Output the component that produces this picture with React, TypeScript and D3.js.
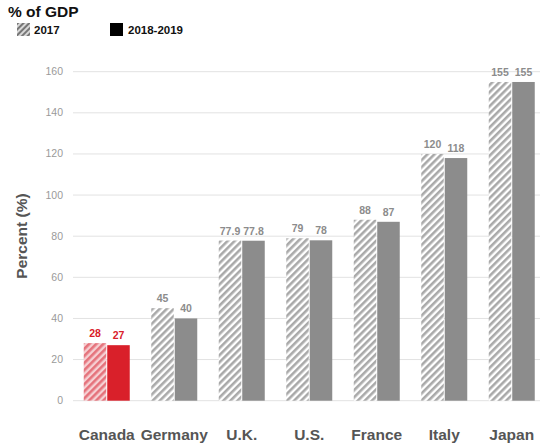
import React from "react";
import * as d3 from "d3";

const categories = ["Canada", "Germany", "U.K.", "U.S.", "France", "Italy", "Japan"];
const values2017 = [28, 45, 77.9, 79, 88, 120, 155];
const values2018 = [27, 40, 77.8, 78, 87, 118, 155];
const labels2017 = ["28", "45", "77.9", "79", "88", "120", "155"];
const labels2018 = ["27", "40", "77.8", "78", "87", "118", "155"];
const yTicks = [0, 20, 40, 60, 80, 100, 120, 140, 160];
const seriesNames = ["2017", "2018-2019"];

const W = 540;
const H = 447;
const FONT = "'Liberation Sans', Arial, sans-serif";

export default function App() {
  const x = d3.scaleBand<string>().domain(categories).range([73, 545.5]).paddingInner(0).paddingOuter(0);
  const y = d3.scaleLinear().domain([0, 160]).range([400.7, 71.7]);
  const barW = 22.5;
  const gap = 1;

  return (
    <svg width={W} height={H} style={{ position: "absolute", left: 0, top: 0, fontFamily: FONT }}>
      <defs>
        <pattern id="hatchGray" patternUnits="userSpaceOnUse" width="5" height="5" patternTransform="rotate(45)">
          <rect width="5" height="5" fill="#ffffff" />
          <rect width="2.6" height="5" fill="#a9a9a9" />
        </pattern>
        <pattern id="hatchRed" patternUnits="userSpaceOnUse" width="5" height="5" patternTransform="rotate(45)">
          <rect width="5" height="5" fill="#f6d0d3" />
          <rect width="2.6" height="5" fill="#e5727b" />
        </pattern>
        <pattern id="hatchLegend" patternUnits="userSpaceOnUse" width="4" height="4" patternTransform="rotate(45)">
          <rect width="4" height="4" fill="#d8d8d8" />
          <rect width="2" height="4" fill="#777777" />
        </pattern>
      </defs>
      <rect width={W} height={H} fill="#ffffff" />

      <text x={8} y={17} fontSize={15.5} fontWeight="bold" fill="#111">% of GDP</text>
      <rect x={17} y={23} width={13} height={13} fill="url(#hatchLegend)" />
      <text x={34} y={34} fontSize={11.5} fontWeight="bold" fill="#111">{seriesNames[0]}</text>
      <rect x={110} y={23} width={13} height={13} fill="#000" />
      <text x={128} y={34} fontSize={11.5} fontWeight="bold" fill="#111">{seriesNames[1]}</text>

      {yTicks.map((t) => (
        <g key={t}>
          <line x1={73} x2={W} y1={y(t)} y2={y(t)} stroke="#e2e2e2" strokeWidth={1} />
          <text x={63} y={y(t) + 3.5} fontSize={10.5} fill="#9a9a9a" textAnchor="end">{t}</text>
        </g>
      ))}

      <text transform={`translate(27,236) rotate(-90)`} fontSize={15.5} fontWeight="bold" fill="#555" textAnchor="middle">Percent (%)</text>

      {categories.map((c, i) => {
        const cx = (x(c) as number) + x.bandwidth() / 2;
        const isRed = i === 0;
        const x1 = cx - gap / 2 - barW;
        const x2 = cx + gap / 2;
        const labelColor = isRed ? "#d9202a" : "#8c8c8c";
        return (
          <g key={c}>
            <rect x={x1} y={y(values2017[i])} width={barW} height={y(0) - y(values2017[i])} fill={isRed ? "url(#hatchRed)" : "url(#hatchGray)"} />
            <rect x={x2} y={y(values2018[i])} width={barW} height={y(0) - y(values2018[i])} fill={isRed ? "#d9202a" : "#8c8c8c"} />
            <text x={x1 + barW / 2} y={y(values2017[i]) - 6} fontSize={10.5} fontWeight="bold" fill={labelColor} textAnchor="middle">{labels2017[i]}</text>
            <text x={x2 + barW / 2} y={y(values2018[i]) - 6} fontSize={10.5} fontWeight="bold" fill={labelColor} textAnchor="middle">{labels2018[i]}</text>
            <text x={cx} y={440} fontSize={15.5} fontWeight="bold" fill="#555" textAnchor="middle">{c}</text>
          </g>
        );
      })}
    </svg>
  );
}
